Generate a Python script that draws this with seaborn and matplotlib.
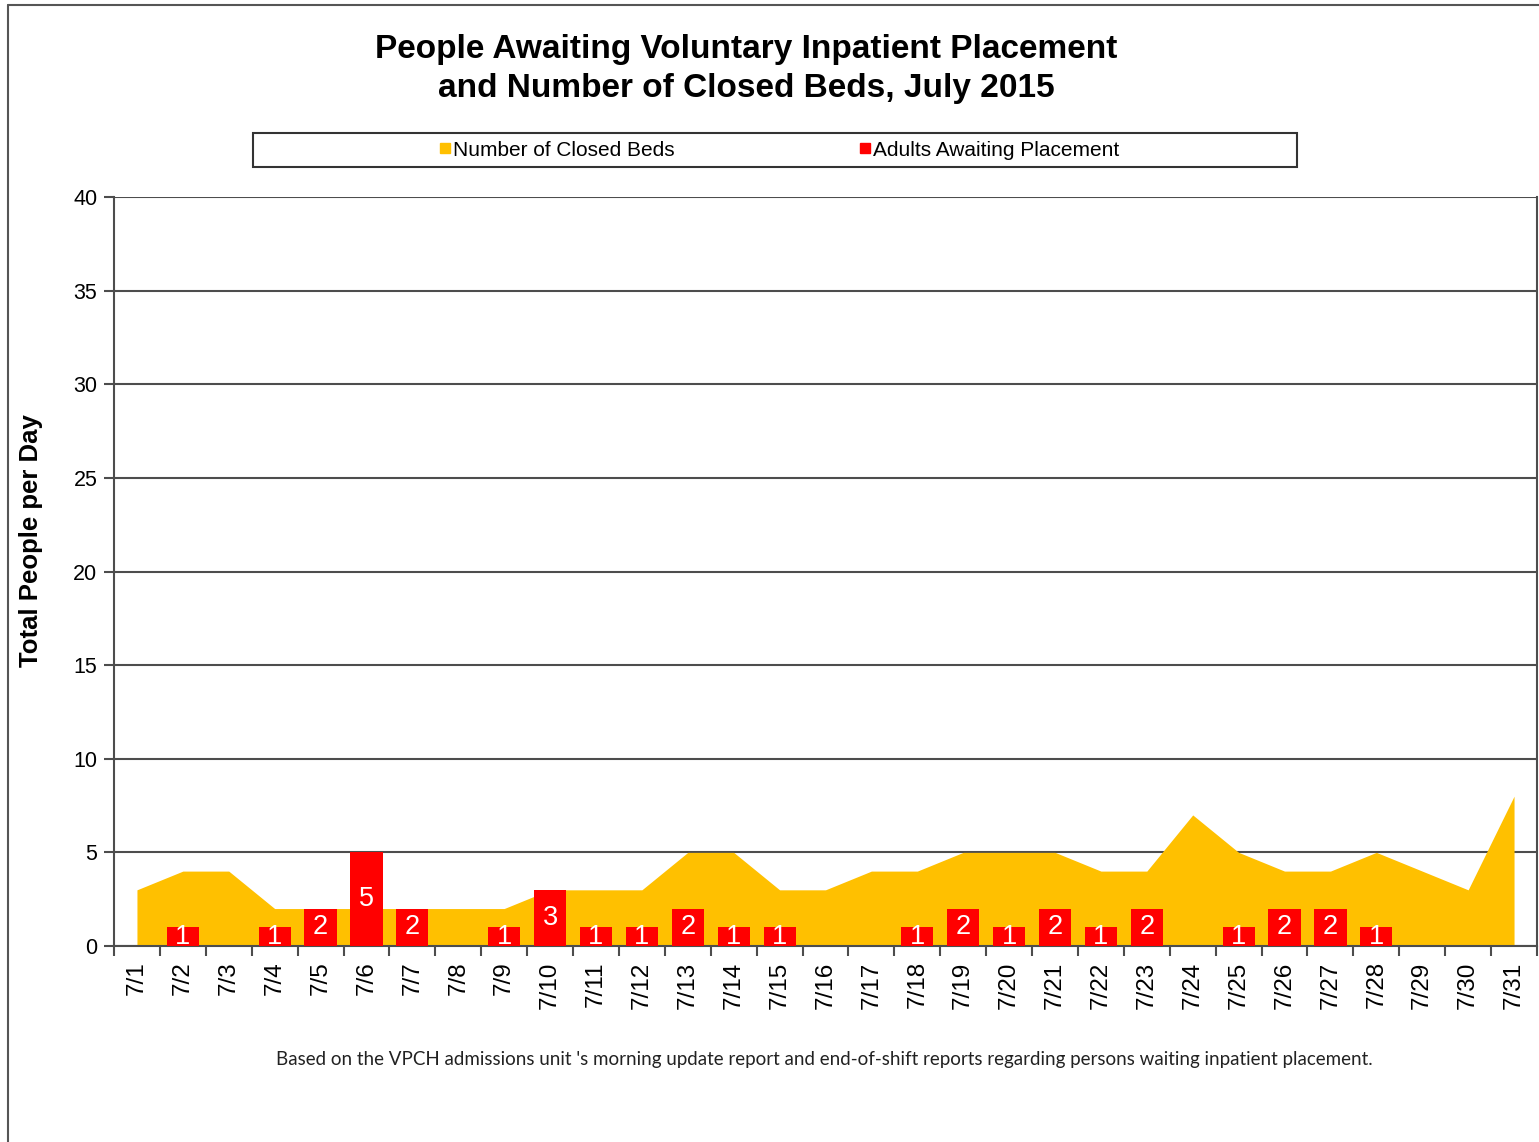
import matplotlib
matplotlib.use('Agg')
import matplotlib.pyplot as plt
from matplotlib.lines import Line2D
from matplotlib.patches import Rectangle
import pandas as pd
import seaborn as sns

# data
days = ['7/%d' % d for d in range(1, 32)]
closed_beds = [3, 4, 4, 2, 2, 2, 2, 2, 2, 3, 3, 3, 5, 5, 3, 3, 4, 4, 5, 5,
               5, 4, 4, 7, 5, 4, 4, 5, 4, 3, 8]
awaiting = [0, 1, 0, 1, 2, 5, 2, 0, 1, 3, 1, 1, 2, 1, 1, 0, 0, 1, 2, 1,
            2, 1, 2, 0, 1, 2, 2, 1, 0, 0, 0]

title = 'People Awaiting Voluntary Inpatient Placement\nand Number of Closed Beds, July 2015'
note = ("Based on the VPCH admissions unit 's morning update report and "
        "end-of-shift reports regarding persons waiting inpatient placement.")

df = pd.DataFrame({'day': days, 'beds': closed_beds, 'adults': awaiting})

sns.set_style('white')
plt.rcParams['font.family'] = ['Liberation Sans', 'DejaVu Sans']
plt.rcParams['text.color'] = 'black'
plt.rcParams['axes.labelcolor'] = 'black'
plt.rcParams['xtick.color'] = 'black'
plt.rcParams['ytick.color'] = 'black'

fig = plt.figure(figsize=(15.39, 11.42), dpi=100)
ax = fig.add_axes([114 / 1539, 1 - 946 / 1142, (1537 - 114) / 1539, (946 - 197) / 1142])

sns.barplot(data=df, x='day', y='adults', color='#FF0000', width=0.7,
            saturation=1, linewidth=0, ax=ax, zorder=3)
ax.fill_between(range(len(days)), closed_beds, 0, color='#FFC000',
                linewidth=0, zorder=2)

labels = [str(v) if v > 0 else '' for v in awaiting]
ax.bar_label(ax.containers[0], labels=labels, label_type='center',
             color='white', fontsize=19.5, zorder=4)

ax.set_ylim(0, 40)
ax.set_xlim(-0.5, len(days) - 0.5)
ax.set_yticks(range(0, 41, 5))
ax.yaxis.grid(True, color='#4d4d4d', linewidth=1.5)
ax.set_axisbelow(True)

ax.set_xticks(range(len(days)))
ax.set_xticklabels(days, rotation=90)
ax.set_xticks([i - 0.5 for i in range(len(days) + 1)], minor=True)
ax.tick_params(axis='x', which='major', length=0, pad=11, labelsize=17.5)
ax.tick_params(axis='x', which='minor', length=7, width=1.5, color='#4d4d4d',
               direction='out', bottom=True)
ax.tick_params(axis='y', length=7, width=1.5, color='#4d4d4d', direction='out',
               left=True, pad=5, labelsize=15.5)

for s in ['left', 'bottom', 'right']:
    ax.spines[s].set_color('#4d4d4d')
    ax.spines[s].set_linewidth(1.5)
ax.spines['top'].set_visible(False)

ax.set_xlabel('')
ax.set_ylabel('Total People per Day', fontsize=18.5, fontweight='bold')
ax.yaxis.set_label_coords(-0.050, (946 - 541) / 749)

fig.text(746 / 1539, 1 - 69 / 1142, title, ha='center', va='center',
         fontsize=24, fontweight='bold', linespacing=1.3)

# legend with a plain box
fig.add_artist(Rectangle((253 / 1539, 1 - 167 / 1142), (1297 - 253) / 1539, 34 / 1142,
                         transform=fig.transFigure, fill=False,
                         edgecolor='#333333', linewidth=1.5))
handles = [Line2D([], [], marker='s', linestyle='', color='#FFC000', markersize=7),
           Line2D([], [], marker='s', linestyle='', color='#FF0000', markersize=7)]
fig.legend(handles, ['Number of Closed Beds', 'Adults Awaiting Placement'],
           loc='center', bbox_to_anchor=(779 / 1539, 1 - 150 / 1142), ncol=2,
           frameon=False, fontsize=15, handlelength=0.6, handletextpad=0.1,
           columnspacing=8.8)

fig.text(824 / 1539, 1 - 1059 / 1142, note, ha='center', va='center',
         fontsize=13.5, family=['Lato', 'DejaVu Sans'], color='#222222')

# outer frame of the page
fig.add_artist(Line2D([8 / 1539, 8 / 1539], [0, 1 - 5 / 1142],
                      transform=fig.transFigure, color='#555555', linewidth=1.5))
fig.add_artist(Line2D([8 / 1539, 1], [1 - 5 / 1142, 1 - 5 / 1142],
                      transform=fig.transFigure, color='#555555', linewidth=1.5))

fig.savefig('out.png', dpi=100)
